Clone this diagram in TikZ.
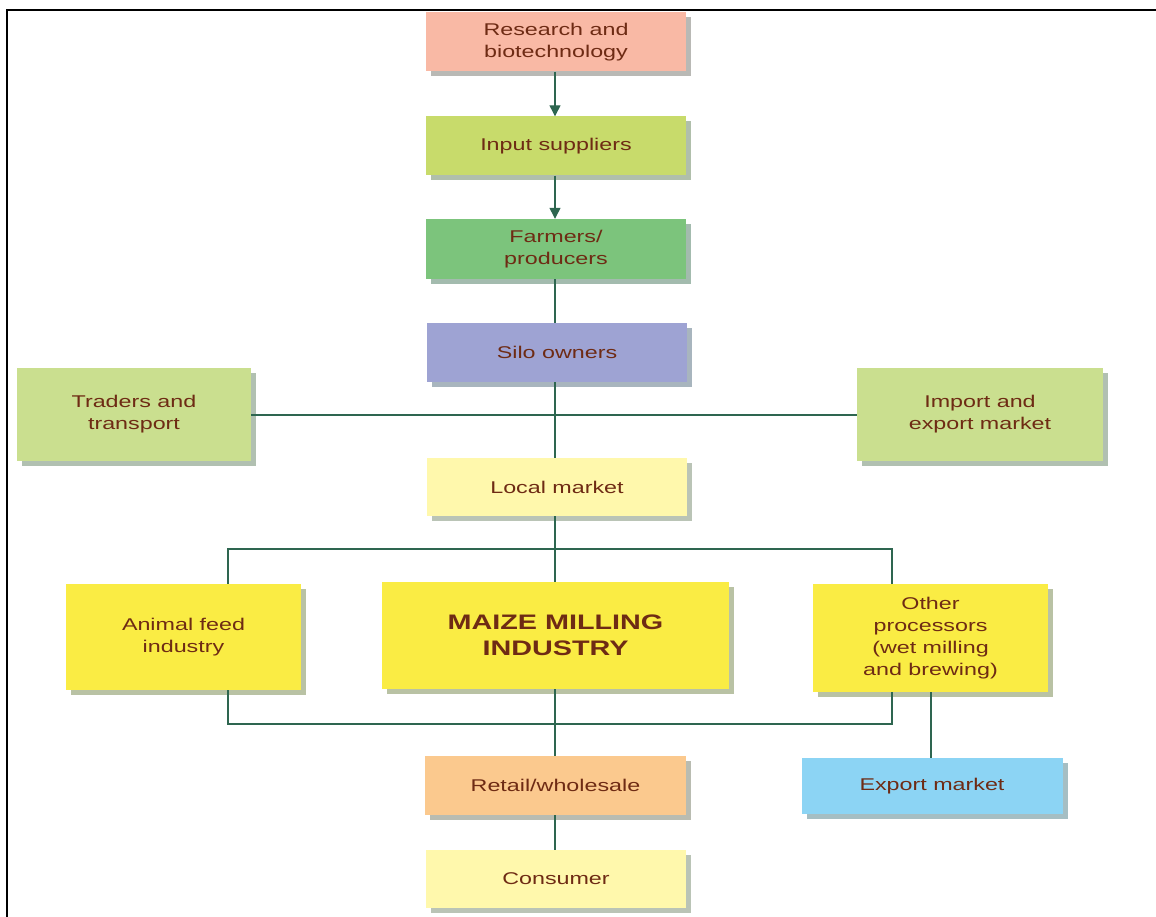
\documentclass[tikz,border=0pt]{standalone}
\usepackage{fontspec}
\setmainfont{Liberation Sans}[FakeStretch=1.37]
\usetikzlibrary{shadows,arrows.meta}
\definecolor{cRes}{HTML}{F9B9A5}
\definecolor{cInp}{HTML}{C8DB6B}
\definecolor{cFarm}{HTML}{7CC47C}
\definecolor{cSilo}{HTML}{9EA3D3}
\definecolor{cTrad}{HTML}{CADF8F}
\definecolor{cPale}{HTML}{FFF8AC}
\definecolor{cYel}{HTML}{FAEC44}
\definecolor{cRet}{HTML}{FBC98E}
\definecolor{cExp}{HTML}{8CD4F4}
\definecolor{cTxt}{HTML}{6E2B14}
\definecolor{cLine}{HTML}{2E6650}
\begin{document}
\begin{tikzpicture}[x=1pt,y=-1pt,
  box/.style={fill=#1, draw=none, align=center, text=cTxt, inner sep=2pt,
    font=\fontsize{17}{22}\selectfont,
    drop shadow={shadow xshift=5pt, shadow yshift=-5pt, fill=#1!50!black!80!teal, opacity=0.45}},
  conn/.style={draw=cLine, line width=1.3pt},
  arr/.style={conn, -{Triangle[length=11pt,width=11pt]}}]
\useasboundingbox (0,0) rectangle (1156,917);
% frame
\draw[line width=2.5pt, line cap=rect] (7,917) -- (7,10) -- (1156,10);
% nodes
\node[box=cRes, minimum width=260pt, minimum height=59pt] (res) at (556,42) {Research and\\biotechnology};
\node[box=cInp, minimum width=260pt, minimum height=59pt] (inp) at (556,146) {Input suppliers};
\node[box=cFarm, minimum width=260pt, minimum height=60pt] (farm) at (556,249) {Farmers/\\producers};
\node[box=cSilo, minimum width=260pt, minimum height=59pt] (silo) at (557,352.5) {Silo owners};
\node[box=cTrad, minimum width=234pt, minimum height=93pt] (trad) at (134,414) {Traders and\\transport};
\node[box=cTrad, minimum width=246pt, minimum height=93pt] (imp) at (980,414) {Import and\\export market};
\node[box=cPale, minimum width=260pt, minimum height=58pt] (loc) at (557,487) {Local market};
\node[box=cYel, minimum width=235pt, minimum height=106pt] (feed) at (183.5,637) {Animal feed\\industry};
\node[box=cYel, minimum width=347pt, minimum height=107pt, font=\fontsize{21}{26}\selectfont\bfseries] (maize) at (555.5,635.5) {MAIZE MILLING\\INDUSTRY};
\node[box=cYel, minimum width=235pt, minimum height=108pt] (oth) at (930.5,638) {Other\\processors\\(wet milling\\and brewing)};
\node[box=cRet, minimum width=261pt, minimum height=59pt] (ret) at (555.5,785.5) {Retail/wholesale};
\node[box=cExp, minimum width=261pt, minimum height=56pt] (exp) at (932,786) {Export market};
\node[box=cPale, minimum width=260pt, minimum height=58pt] (con) at (556,879) {Consumer};
% helper coordinates
\coordinate (cx) at (555,0);
\coordinate (bl) at (228,549);
\coordinate (br) at (892,549);
\coordinate (dl) at (228,724);
\coordinate (dr) at (892,724);
\coordinate (ex) at (931,0);
% connectors
\draw[arr] (res.south -| cx) -- (inp.north -| cx);
\draw[arr] (inp.south -| cx) -- (farm.north -| cx);
\draw[conn] (farm.south -| cx) -- (silo.north -| cx);
\draw[conn] (silo.south -| cx) -- (loc.north -| cx);
\draw[conn] (trad.east |- 0,415) -- (imp.west |- 0,415);
\draw[conn] (loc.south -| cx) -- (maize.north -| cx);
\draw[conn] (feed.north -| bl) -- (bl) -- (br) -- (oth.north -| br);
\draw[conn] (feed.south -| dl) -- (dl) -- (dr) -- (oth.south -| dr);
\draw[conn] (maize.south -| cx) -- (ret.north -| cx);
\draw[conn] (oth.south -| ex) -- (exp.north -| ex);
\draw[conn] (ret.south -| cx) -- (con.north -| cx);
\end{tikzpicture}
\end{document}
